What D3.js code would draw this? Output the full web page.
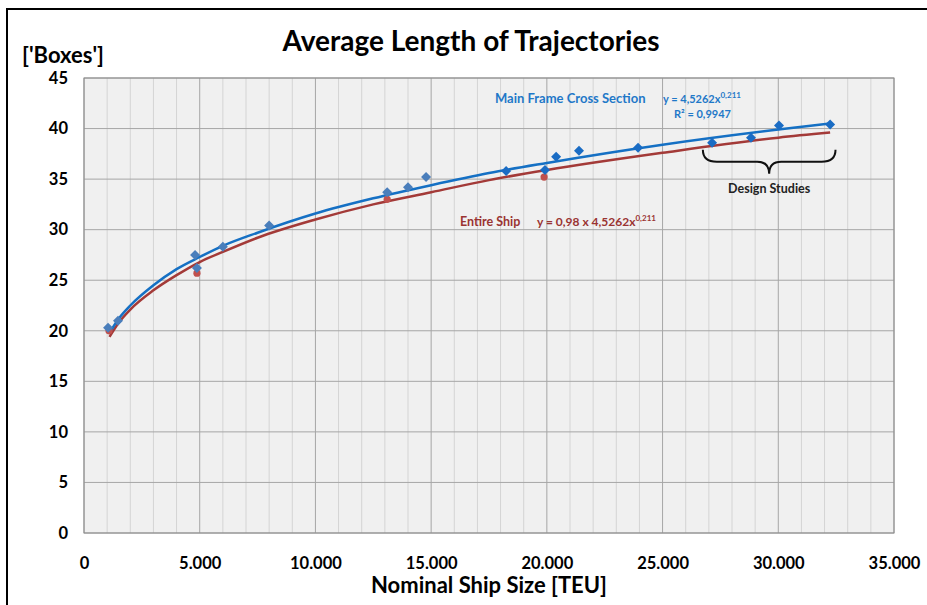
<!DOCTYPE html>
<html>
<head>
<meta charset="utf-8">
<script src="https://cdn.jsdelivr.net/npm/d3@7"></script>
<style>
  body { margin: 0; background: #fff; }
  text { font-family: Lato, "Open Sans", sans-serif; }
</style>
</head>
<body>
<div id="chart"></div>
<script>
// main frame cross section, measured ships (lighter marker)
var mainX1 = [1040, 1470, 4800, 4880, 6000, 8000, 13100, 14000, 14780];
var mainY1 = [20.3, 21.0, 27.5, 26.2, 28.3, 30.4, 33.7, 34.2, 35.2];
// main frame cross section, newer ships + design studies (darker marker)
var mainX2 = [18240, 19920, 20400, 21390, 23940, 27140, 28820, 30030, 32240];
var mainY2 = [35.8, 35.9, 37.2, 37.8, 38.1, 38.6, 39.1, 40.3, 40.4];
// entire ship
var shipX = [1080, 4880, 13100, 19880];
var shipY = [20.0, 25.7, 33.0, 35.2];

// trend lines
var trendX = [1100, 1500, 2000, 3000, 4000, 5000, 6000, 7500, 10000, 12500, 15000, 17500, 20000, 25000, 30000, 32240];
var trendMain = [19.8, 21.2, 22.5, 24.5, 26.1, 27.3, 28.4, 29.7, 31.6, 33.1, 34.4, 35.6, 36.6, 38.4, 39.9, 40.5];
var trendShip = [19.4, 20.8, 22.1, 24.0, 25.5, 26.8, 27.8, 29.2, 31.0, 32.5, 33.7, 34.9, 35.9, 37.6, 39.1, 39.6];

var xTicks = [0, 5000, 10000, 15000, 20000, 25000, 30000, 35000];
var yTicks = [0, 5, 10, 15, 20, 25, 30, 35, 40, 45];

var W = 927, H = 605;
var margin = {top: 78, right: 33, bottom: 72, left: 84};
var width = W - margin.left - margin.right;
var height = H - margin.top - margin.bottom;

var de = d3.formatLocale({decimal: ",", thousands: ".", grouping: [3], currency: ["", ""]});
var fmt = de.format(",d");

var svg = d3.select("#chart").append("svg")
	.attr("width", W)
	.attr("height", H);

// outer frame
svg.append("rect")
	.attr("x", 7).attr("y", 9)
	.attr("width", W + 10).attr("height", H + 10)
	.style("fill", "none")
	.style("stroke", "#000")
	.style("stroke-width", 2);

var g = svg.append("g")
	.attr("transform", "translate(" + margin.left + "," + margin.top + ")");

var x = d3.scaleLinear().domain([0, 35000]).range([0, width]);
var y = d3.scaleLinear().domain([0, 45]).range([height, 0]);

g.append("rect")
	.attr("width", width).attr("height", height)
	.style("fill", "#f0f0f0");

// minor vertical grid
g.selectAll(".vminor")
	.data(d3.range(1000, 35000, 1000).filter(function(d) { return d % 5000 != 0; }))
	.enter().append("line")
	.attr("x1", function(d) { return x(d); })
	.attr("x2", function(d) { return x(d); })
	.attr("y1", 0).attr("y2", height)
	.style("stroke", "#d4d4d4");

// major vertical grid
g.selectAll(".vmajor")
	.data(xTicks)
	.enter().append("line")
	.attr("x1", function(d) { return x(d); })
	.attr("x2", function(d) { return x(d); })
	.attr("y1", 0).attr("y2", height)
	.style("stroke", "#a6a6a6");

// horizontal grid
g.selectAll(".hgrid")
	.data(yTicks)
	.enter().append("line")
	.attr("x1", 0).attr("x2", width)
	.attr("y1", function(d) { return y(d); })
	.attr("y2", function(d) { return y(d); })
	.style("stroke", "#a6a6a6");

g.append("rect")
	.attr("width", width).attr("height", height)
	.style("fill", "none")
	.style("stroke", "#8c8c8c");

// axes
var xAxis = g.append("g")
	.attr("transform", "translate(0," + height + ")")
	.call(d3.axisBottom(x).tickValues(xTicks).tickFormat(fmt).tickSize(0).tickPadding(24));
var yAxis = g.append("g")
	.call(d3.axisLeft(y).tickValues(yTicks).tickSize(0).tickPadding(16));
[xAxis, yAxis].forEach(function(a) {
	a.select(".domain").remove();
	a.selectAll("text")
		.style("font-family", "Lato, sans-serif")
		.style("font-size", "16.5px")
		.style("font-weight", "bold")
		.style("fill", "#000");
});

// trend lines
var line = d3.line()
	.x(function(d) { return x(d[0]); })
	.y(function(d) { return y(d[1]); })
	.curve(d3.curveMonotoneX);

g.append("path")
	.datum(d3.zip(trendX, trendShip))
	.attr("d", line)
	.style("fill", "none")
	.style("stroke", "#a33a38")
	.style("stroke-width", 2.5);

g.append("path")
	.datum(d3.zip(trendX, trendMain))
	.attr("d", line)
	.style("fill", "none")
	.style("stroke", "#1570c4")
	.style("stroke-width", 2.5);

// markers
g.selectAll(".ship")
	.data(d3.zip(shipX, shipY))
	.enter().append("circle")
	.attr("cx", function(d) { return x(d[0]); })
	.attr("cy", function(d) { return y(d[1]); })
	.attr("r", 3.6)
	.style("fill", "#c0504d");

var diamond = d3.symbol().type(d3.symbolSquare).size(50);
g.selectAll(".main1")
	.data(d3.zip(mainX1, mainY1))
	.enter().append("path")
	.attr("d", diamond)
	.attr("transform", function(d) { return "translate(" + x(d[0]) + "," + y(d[1]) + ") rotate(45)"; })
	.style("fill", "#4a7ebb");

g.selectAll(".main2")
	.data(d3.zip(mainX2, mainY2))
	.enter().append("path")
	.attr("d", diamond)
	.attr("transform", function(d) { return "translate(" + x(d[0]) + "," + y(d[1]) + ") rotate(45)"; })
	.style("fill", "#1a6cc4");

// brace over the design studies
var bx0 = x(27000) - 6, bx1 = x(32300) + 4, bm = (bx0 + bx1) / 2, by = y(38.0) + 1;
g.append("path")
	.attr("d", "M" + bx0 + "," + by + " Q" + bx0 + "," + (by + 12) + " " + (bx0 + 14) + "," + (by + 12) +
		" L" + (bm - 12) + "," + (by + 12) + " Q" + bm + "," + (by + 12) + " " + bm + "," + (by + 24) +
		" Q" + bm + "," + (by + 12) + " " + (bm + 12) + "," + (by + 12) +
		" L" + (bx1 - 14) + "," + (by + 12) + " Q" + bx1 + "," + (by + 12) + " " + bx1 + "," + by)
	.style("fill", "none")
	.style("stroke", "#111")
	.style("stroke-width", 2);

// texts
svg.append("text")
	.attr("x", 471).attr("y", 51)
	.attr("text-anchor", "middle")
	.style("font-size", "28px").style("font-weight", "bold")
	.text("Average Length of Trajectories");

svg.append("text")
	.attr("x", 22).attr("y", 63)
	.style("font-size", "22px").style("font-weight", "bold")
	.text("['Boxes']");

svg.append("text")
	.attr("x", 489).attr("y", 593)
	.attr("text-anchor", "middle")
	.style("font-size", "22px").style("font-weight", "bold")
	.text("Nominal Ship Size [TEU]");

svg.append("text")
	.attr("x", 495).attr("y", 103)
	.style("font-size", "13px").style("font-weight", "bold").style("fill", "#1f78c8")
	.text("Main Frame Cross Section");

var eq1 = svg.append("text")
	.attr("x", 663).attr("y", 103)
	.style("font-size", "11px").style("font-weight", "bold").style("fill", "#1f78c8");
eq1.append("tspan").text("y = 4,5262x");
eq1.append("tspan").attr("dy", -5).style("font-size", "8px").text("0,211");

svg.append("text")
	.attr("x", 674).attr("y", 118)
	.style("font-size", "11px").style("font-weight", "bold").style("fill", "#1f78c8")
	.text("R² = 0,9947");

svg.append("text")
	.attr("x", 460).attr("y", 226)
	.style("font-size", "12.5px").style("font-weight", "bold").style("fill", "#9a3432")
	.text("Entire Ship");

var eq2 = svg.append("text")
	.attr("x", 537).attr("y", 226)
	.style("font-size", "12px").style("font-weight", "bold").style("fill", "#9a3432");
eq2.append("tspan").text("y = 0,98 x  4,5262x");
eq2.append("tspan").attr("dy", -5).style("font-size", "8px").text("0,211");

svg.append("text")
	.attr("x", margin.left + bm).attr("y", 193)
	.attr("text-anchor", "middle")
	.style("font-size", "12.5px").style("font-weight", "bold").style("fill", "#222")
	.text("Design Studies");
</script>
</body>
</html>
